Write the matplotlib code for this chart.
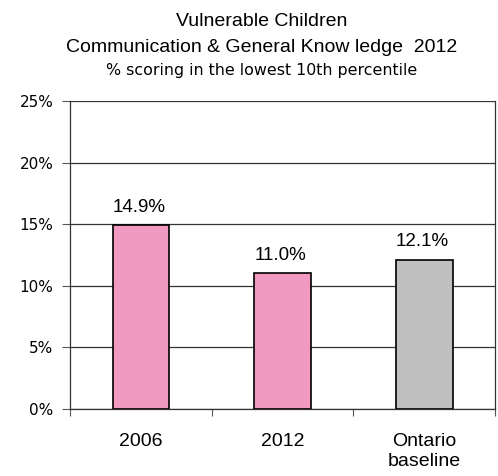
import matplotlib
matplotlib.use("Agg")
import matplotlib.pyplot as plt

categories = ["2006", "2012", "Ontario\nbaseline"]
values = [14.9, 11.0, 12.1]
value_labels = ["14.9%", "11.0%", "12.1%"]
colors = ["#F299C1", "#F299C1", "#C0C0C0"]
yticks = [0, 5, 10, 15, 20, 25]
ytick_labels = ["0%", "5%", "10%", "15%", "20%", "25%"]

W, H = 498, 476
fig = plt.figure(figsize=(W / 100, H / 100), dpi=100)
L, R, T, B = 70, 495, 101, 409
ax = fig.add_axes([L / W, 1 - B / H, (R - L) / W, (B - T) / H])

x = list(range(len(categories)))
ax.bar(x, values, width=0.4, color=colors, edgecolor="black", linewidth=1.2, zorder=3)
ax.set_xlim(-0.5, 2.5)
ax.set_ylim(0, 25)
ax.set_yticks(yticks)
ax.set_yticklabels(ytick_labels, fontfamily="DejaVu Sans", fontsize=11)
ax.yaxis.grid(True, color="#333333", linewidth=0.9, zorder=0)
ax.set_xticks([-0.5, 0.5, 1.5, 2.5])
ax.set_xticklabels([])
ax.tick_params(axis="x", direction="out", length=5, width=0.8, color="#555555")
ax.tick_params(axis="y", direction="out", length=6, width=0.8, color="#555555", pad=6)
for i, c in enumerate(categories):
    ax.annotate(c, (i, 0), xytext=(0, -17.5), textcoords="offset points", ha="center",
                va="top", fontfamily="Liberation Sans", fontsize=14, linespacing=1.2)
for i, (v, lab) in enumerate(zip(values, value_labels)):
    ax.annotate(lab, (i, v), xytext=(-1.5, 10), textcoords="offset points", ha="center",
                va="baseline", fontfamily="Liberation Sans", fontsize=13.5)
ax.spines["top"].set_visible(False)
for s in ["left", "bottom", "right"]:
    ax.spines[s].set_color("#333333")
    ax.spines[s].set_linewidth(0.9)

cx = 262 / W
fig.text(cx, 1 - 21 / H, "Vulnerable Children", ha="center", va="center",
         fontfamily="Liberation Sans", fontsize=14)
fig.text(cx, 1 - 48 / H, "Communication & General Know ledge  2012", ha="center", va="center",
         fontfamily="Liberation Sans", fontsize=14)
fig.text(cx, 1 - 71 / H, "% scoring in the lowest 10th percentile", ha="center", va="center",
         fontfamily="DejaVu Sans", fontsize=11.4)

fig.savefig("out.png", dpi=100)
